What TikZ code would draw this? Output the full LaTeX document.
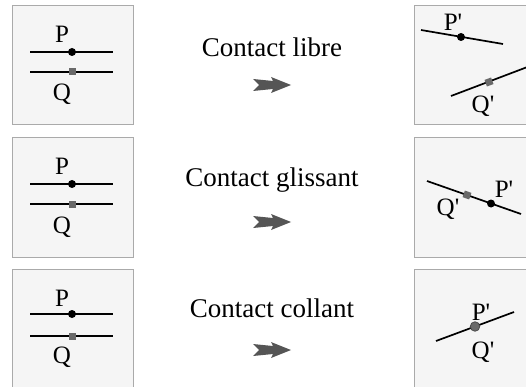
\documentclass[tikz,border=0pt]{standalone}
\usepackage{fontspec}
\setmainfont{Liberation Serif}[Ligatures=TeXOff]
\usetikzlibrary{positioning,calc}
\definecolor{panelfill}{RGB}{245,245,245}
\definecolor{panelline}{RGB}{170,170,170}
\definecolor{markgray}{RGB}{105,105,105}
\definecolor{arrowgray}{RGB}{85,85,85}

\tikzset{
  fatarrow/.pic={
    \fill[arrowgray] (-19,-6) -- (1,-4) -- (-1,-8) -- (19,0) -- (-1,8) -- (1,4) -- (-19,6) -- (-13,0) -- cycle;
  }
}

\begin{document}
\begin{tikzpicture}[
        x=1pt, y=-1pt,
        panel/.style={rectangle, draw=panelline, fill=panelfill, line width=1pt, minimum width=121pt, minimum height=119pt, inner sep=0pt},
        body/.style={line width=1.7pt, black},
        title/.style={font=\fontsize{27}{30}\selectfont, anchor=base, inner sep=0pt},
        lbl/.style={font=\fontsize{25}{28}\selectfont, anchor=base, inner sep=0pt},
        pdot/.style={circle, fill=black, inner sep=0pt, minimum size=8pt},
        qsq/.style={rectangle, fill=markgray, inner sep=0pt, minimum size=7pt},
        gdot/.style={circle, fill=markgray, draw=black!70, line width=0.8pt, inner sep=0pt, minimum size=9.5pt}
    ]
        \clip (0,0) rectangle (526,387);

        % Panels
        \node[panel] (L1) at (72.5,65.5) {};
        \node[panel] (L2) at (72.5,197.5) {};
        \node[panel] (L3) at (72.5,328.5) {};
        \node[panel] (R1) at (474.5,65.5) {};
        \node[panel] (R2) at (474.5,197.5) {};
        \node[panel] (R3) at (474.5,328.5) {};

        % Before: two parallel bodies
        \draw[body] (30,52) -- (113,52);
        \draw[body] (30,72) -- (113,72);
        \node[pdot] (P1) at (72,52) {};
        \node[qsq] (Q1) at (72,72) {};
        \node[lbl] (P1l) at (62,43) {P};
        \node[lbl] (Q1l) at (62,101) {Q};

        \draw[body] (30,184) -- (113,184);
        \draw[body] (30,204) -- (113,204);
        \node[pdot] (P2) at (72,184) {};
        \node[qsq] (Q2) at (72,204) {};
        \node[lbl] (P2l) at (62,175) {P};
        \node[lbl] (Q2l) at (62,233) {Q};

        \draw[body] (30,314) -- (113,314);
        \draw[body] (30,336) -- (113,336);
        \node[pdot] (P3) at (72,314) {};
        \node[qsq] (Q3) at (72,336) {};
        \node[lbl] (P3l) at (62,306) {P};
        \node[lbl] (Q3l) at (62,363) {Q};

        % Contact types
        \node[title] (lib) at (272,57) {Contact libre};
        \node[title] (gli) at (272,186) {Contact glissant};
        \node[title] (col) at (272,317) {Contact collant};
        \pic at (272,85) {fatarrow};
        \pic at (272,222) {fatarrow};
        \pic at (272,350) {fatarrow};

        % After: libre
        \draw[body] (421,30) -- (503,44);
        \draw[body] (451,96) -- (530,66);
        \node[pdot] (P4) at (461,37) {};
        \node[qsq, rotate=20.7] (Q4) at (489,82) {};
        \node[lbl] (P4l) at (453,31) {P'};
        \node[lbl] (Q4l) at (483,113) {Q'};

        % After: glissant
        \draw[body] (427,181) -- (521,214);
        \node[qsq, rotate=-19.3] (Q5) at (467,195) {};
        \node[pdot] (P5) at (491,203.5) {};
        \node[lbl] (P5l) at (504,197) {P'};
        \node[lbl] (Q5l) at (448,215) {Q'};

        % After: collant
        \draw[body] (436,341) -- (514,312);
        \node[gdot] (PQ6) at (475,326.5) {};
        \node[lbl] (P6l) at (481,320) {P'};
        \node[lbl] (Q6l) at (483,358) {Q'};

    \end{tikzpicture}
\end{document}
